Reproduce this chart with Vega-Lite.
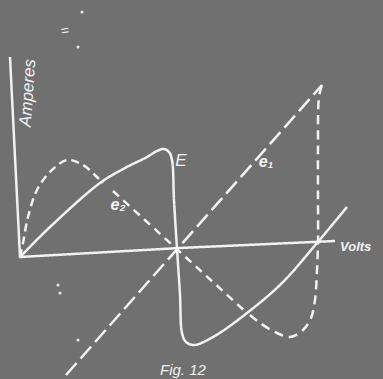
{
  "$schema": "https://vega.github.io/schema/vega-lite/v6.json",
  "width": 383,
  "height": 379,
  "autosize": {"type": "fit", "contains": "padding"},
  "padding": 0,
  "background": "#707070",
  "config": {"view": {"stroke": null}},
  "datasets": {
    "straight": [
      {"series": "axes", "ord": 1, "dx": -10, "dy": 200},
      {"series": "axes", "ord": 2, "dx": 0, "dy": 0},
      {"series": "axes", "ord": 3, "dx": 160, "dy": 9},
      {"series": "axes", "ord": 4, "dx": 315, "dy": 16},
      {"series": "e1", "ord": 1, "dx": 46, "dy": -118},
      {"series": "e1", "ord": 2, "dx": 302, "dy": 172},
      {"series": "e2", "ord": 1, "dx": 93, "dy": 66},
      {"series": "e2", "ord": 2, "dx": 227, "dy": -56}
    ],
    "curves": [
      {"series": "E", "ord": 1, "dx": 0, "dy": 0},
      {"series": "E", "ord": 2, "dx": 30, "dy": 30},
      {"series": "E", "ord": 3, "dx": 80, "dy": 74},
      {"series": "E", "ord": 4, "dx": 105, "dy": 89},
      {"series": "E", "ord": 5, "dx": 127, "dy": 100},
      {"series": "E", "ord": 6, "dx": 137, "dy": 106},
      {"series": "E", "ord": 7, "dx": 144, "dy": 108},
      {"series": "E", "ord": 8, "dx": 149, "dy": 105},
      {"series": "E", "ord": 9, "dx": 152, "dy": 97},
      {"series": "E", "ord": 10, "dx": 154, "dy": 57},
      {"series": "E", "ord": 11, "dx": 157, "dy": 8},
      {"series": "E", "ord": 12, "dx": 160, "dy": -38},
      {"series": "E", "ord": 13, "dx": 162, "dy": -76},
      {"series": "E", "ord": 14, "dx": 166, "dy": -85},
      {"series": "E", "ord": 15, "dx": 174, "dy": -88},
      {"series": "E", "ord": 16, "dx": 193, "dy": -80},
      {"series": "E", "ord": 17, "dx": 227, "dy": -56},
      {"series": "E", "ord": 18, "dx": 262, "dy": -26},
      {"series": "E", "ord": 19, "dx": 297, "dy": 14},
      {"series": "E", "ord": 20, "dx": 327, "dy": 50},

      {"series": "hump1", "ord": 1, "dx": 0, "dy": 0},
      {"series": "hump1", "ord": 2, "dx": 3, "dy": 14},
      {"series": "hump1", "ord": 3, "dx": 8, "dy": 40},
      {"series": "hump1", "ord": 4, "dx": 17, "dy": 67},
      {"series": "hump1", "ord": 5, "dx": 30, "dy": 85},
      {"series": "hump1", "ord": 6, "dx": 47, "dy": 97},
      {"series": "hump1", "ord": 7, "dx": 63, "dy": 92},
      {"series": "hump1", "ord": 8, "dx": 77, "dy": 80},
      {"series": "hump1", "ord": 9, "dx": 83, "dy": 74},

      {"series": "hump2", "ord": 1, "dx": 230, "dy": -58},
      {"series": "hump2", "ord": 2, "dx": 240, "dy": -66},
      {"series": "hump2", "ord": 3, "dx": 257, "dy": -76},
      {"series": "hump2", "ord": 4, "dx": 270, "dy": -80},
      {"series": "hump2", "ord": 5, "dx": 283, "dy": -73},
      {"series": "hump2", "ord": 6, "dx": 291, "dy": -61},
      {"series": "hump2", "ord": 7, "dx": 295, "dy": -43},
      {"series": "hump2", "ord": 8, "dx": 297, "dy": -13},
      {"series": "hump2", "ord": 9, "dx": 298, "dy": 14},
      {"series": "hump2", "ord": 10, "dx": 298, "dy": 57},
      {"series": "hump2", "ord": 11, "dx": 298, "dy": 107},
      {"series": "hump2", "ord": 12, "dx": 299, "dy": 160},
      {"series": "hump2", "ord": 13, "dx": 302, "dy": 172}
    ],
    "dots": [
      {"dx": 62, "dy": 245},
      {"dx": 58, "dy": 210},
      {"dx": 38, "dy": -28},
      {"dx": 40, "dy": -36},
      {"dx": 58, "dy": -83}
    ]
  },
  "layer": [
    {
      "data": {"name": "straight"},
      "mark": {"type": "line", "color": "#f2f2f2", "strokeWidth": 2.5, "strokeCap": "butt", "strokeJoin": "round", "interpolate": "linear"},
      "encoding": {
        "x": {"field": "dx", "type": "quantitative", "scale": {"domain": [-20, 363], "nice": false, "zero": false}, "axis": null},
        "y": {"field": "dy", "type": "quantitative", "scale": {"domain": [-122, 257], "nice": false, "zero": false}, "axis": null},
        "order": {"field": "ord"},
        "detail": {"field": "series"},
        "strokeDash": {
          "field": "series", "type": "nominal", "legend": null,
          "scale": {
            "domain": ["axes", "E", "hump1", "hump2", "e1", "e2"],
            "range": [[1, 0], [1, 0], [8, 5], [9, 6], [16, 6], [8, 6]]
          }
        }
      }
    },
    {
      "data": {"name": "curves"},
      "mark": {"type": "line", "color": "#f2f2f2", "strokeWidth": 2.5, "strokeCap": "butt", "strokeJoin": "round", "interpolate": "catmull-rom"},
      "encoding": {
        "x": {"field": "dx", "type": "quantitative"},
        "y": {"field": "dy", "type": "quantitative"},
        "order": {"field": "ord"},
        "detail": {"field": "series"},
        "strokeDash": {"field": "series", "type": "nominal", "legend": null}
      }
    },
    {
      "data": {"name": "dots"},
      "mark": {"type": "circle", "color": "#f2f2f2", "size": 10, "opacity": 0.9},
      "encoding": {
        "x": {"field": "dx", "type": "quantitative"},
        "y": {"field": "dy", "type": "quantitative"}
      }
    },
    {
      "data": {"values": [{"label": "Amperes", "dx": 8, "dy": 164}]},
      "mark": {"type": "text", "color": "#f2f2f2", "font": "Liberation Sans", "fontStyle": "italic", "fontSize": 17, "angle": 274, "align": "center", "baseline": "middle"},
      "encoding": {"x": {"field": "dx", "type": "quantitative"}, "y": {"field": "dy", "type": "quantitative"}, "text": {"field": "label"}}
    },
    {
      "data": {"values": [{"label": "E", "dx": 161, "dy": 96}]},
      "mark": {"type": "text", "color": "#f2f2f2", "font": "Liberation Sans", "fontStyle": "italic", "fontSize": 17, "align": "center", "baseline": "middle"},
      "encoding": {"x": {"field": "dx", "type": "quantitative"}, "y": {"field": "dy", "type": "quantitative"}, "text": {"field": "label"}}
    },
    {
      "data": {"values": [{"label": "e₂", "dx": 98, "dy": 52}, {"label": "e₁", "dx": 246, "dy": 95}]},
      "mark": {"type": "text", "color": "#f2f2f2", "font": "Liberation Sans", "fontStyle": "italic", "fontWeight": "bold", "fontSize": 16, "align": "center", "baseline": "middle"},
      "encoding": {"x": {"field": "dx", "type": "quantitative"}, "y": {"field": "dy", "type": "quantitative"}, "text": {"field": "label"}}
    },
    {
      "data": {"values": [{"label": "Volts", "dx": 320, "dy": 10}]},
      "mark": {"type": "text", "color": "#f2f2f2", "font": "Liberation Sans", "fontStyle": "italic", "fontWeight": "bold", "fontSize": 13, "align": "left", "baseline": "middle", "clip": true},
      "encoding": {"x": {"field": "dx", "type": "quantitative"}, "y": {"field": "dy", "type": "quantitative"}, "text": {"field": "label"}}
    },
    {
      "data": {"values": [{"label": "Fig. 12", "dx": 140, "dy": -106}]},
      "mark": {"type": "text", "color": "#f2f2f2", "font": "Liberation Sans", "fontStyle": "italic", "fontSize": 15, "align": "left", "baseline": "top", "clip": true},
      "encoding": {"x": {"field": "dx", "type": "quantitative"}, "y": {"field": "dy", "type": "quantitative"}, "text": {"field": "label"}}
    },
    {
      "data": {"values": [{"label": "=", "dx": 45, "dy": 226}]},
      "mark": {"type": "text", "color": "#f2f2f2", "font": "Liberation Sans", "fontSize": 14, "angle": 350, "align": "center", "baseline": "middle"},
      "encoding": {"x": {"field": "dx", "type": "quantitative"}, "y": {"field": "dy", "type": "quantitative"}, "text": {"field": "label"}}
    }
  ]
}
